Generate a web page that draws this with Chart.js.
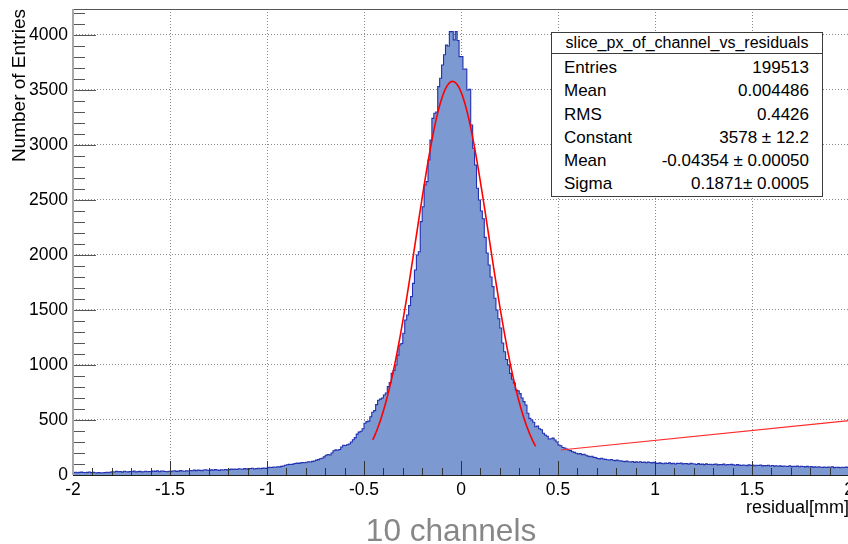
<!DOCTYPE html>
<html>
<head>
<meta charset="utf-8">
<script src="https://cdn.jsdelivr.net/npm/chart.js@4.4.1/dist/chart.umd.min.js"></script>
<style>
  html, body { margin: 0; padding: 0; background: #fff; width: 848px; height: 544px; overflow: hidden; }
  #wrap { position: absolute; left: 0; top: 0; width: 880px; height: 544px; }
  #stats {
    position: absolute; left: 551px; top: 32px; width: 270px;
    border: 1px solid #3c3c3c; background: #fff; color: #000;
    font-family: 'Liberation Sans', Arial, sans-serif;
  }
  #stats .hdr { height: 20px; line-height: 20px; font-size: 16px; text-align: center; border-bottom: 1px solid #3c3c3c; }
  #stats .rows { padding: 2px 13px 0 12px; }
  #stats .row { display: flex; justify-content: space-between; height: 23.3px; line-height: 23.3px; font-size: 17px; white-space: nowrap; }
  #caption {
    position: absolute; left: 451px; top: 515px; transform: translateX(-50%);
    font-family: 'Liberation Sans', Arial, sans-serif; font-size: 31.6px; line-height: 31px;
    color: #878787; white-space: nowrap;
  }
</style>
</head>
<body>
<div id="wrap"><canvas id="chart" width="880" height="544"></canvas></div>
<div id="stats"></div>
<div id="caption">10 channels</div>
<script>
// histogram: 400 bins of 0.01 from -2 to 2
const binLow = -2;
const binWidth = 0.01;
const counts = [
  22, 25, 21, 24, 26, 23, 20, 24, 27, 22, 24, 21, 19, 23, 18, 20, 22, 25, 21, 26,
  30, 27, 33, 29, 31, 26, 34, 30, 28, 32, 29, 35, 27, 31, 33, 28, 30, 34, 29, 32,
  31, 36, 33, 38, 30, 35, 37, 32, 29, 34, 31, 36, 39, 33, 35, 40, 37, 34, 38, 36,
  41, 38, 44, 40, 46, 42, 39, 45, 48, 43, 41, 47, 44, 49, 46, 42, 48, 45, 50, 47,
  49, 53, 51, 55, 50, 57, 54, 52, 58, 56, 53, 59, 61, 55, 58, 62, 57, 60, 63, 59,
  66, 70, 68, 73, 71, 75, 74, 78, 82, 88, 93, 97, 95, 99, 104, 108, 106, 110, 113, 111,
  116, 120, 118, 124, 127, 135, 140, 148, 152, 165, 180, 186, 182, 200, 220, 228, 225, 232, 255, 270,
  268, 275, 282, 300, 320, 340, 372, 390, 398, 420, 470, 485, 490, 530, 570, 585, 640, 680, 690, 700,
  727, 745, 803, 840, 924, 950, 1000, 1090, 1182, 1195, 1288, 1409, 1455, 1540, 1621, 1742, 1864, 2000, 2030, 2303,
  2439, 2636, 2667, 2864, 3045, 3242, 3288, 3300, 3530, 3606, 3727, 3820, 3909, 3900, 4030, 4030, 3955, 4030, 3950, 3803,
  3803, 3688, 3690, 3500, 3505, 3182, 2970, 2818, 2606, 2500, 2400, 2330, 2160, 2018, 1909, 1800, 1712, 1606, 1500, 1420,
  1336, 1200, 1121, 1050, 1000, 924, 870, 836, 773, 765, 740, 700, 667, 636, 561, 515, 500, 480, 439, 445,
  420, 412, 380, 364, 352, 327, 330, 335, 318, 300, 273, 266, 250, 245, 236, 227, 222, 212, 206, 198,
  192, 195, 185, 188, 180, 172, 166, 170, 160, 158, 150, 147, 152, 145, 142, 138, 136, 141, 134, 131,
  137, 130, 128, 125, 122, 127, 120, 118, 123, 115, 119, 116, 121, 114, 118, 112, 117, 113, 110, 116,
  108, 104, 110, 106, 102, 109, 105, 111, 103, 107, 100, 106, 104, 109, 101, 105, 103, 98, 106, 102,
  100, 96, 103, 97, 99, 94, 101, 95, 98, 93, 97, 100, 92, 96, 94, 99, 91, 95, 93, 97,
  92, 88, 94, 90, 86, 91, 89, 85, 93, 87, 90, 84, 88, 86, 91, 83, 87, 85, 89, 82,
  86, 81, 84, 79, 83, 78, 82, 80, 77, 84, 76, 80, 78, 81, 75, 79, 77, 74, 78, 73,
  76, 72, 74, 70, 75, 71, 69, 73, 68, 72, 70, 74, 67, 71, 69, 66, 70, 68, 72, 69
];

const xTickValues = [-2, -1.5, -1, -0.5, 0, 0.5, 1, 1.5, 2];
const xTickLabels = ['-2', '-1.5', '-1', '-0.5', '0', '0.5', '1', '1.5', '2'];
const yTickValues = [0, 500, 1000, 1500, 2000, 2500, 3000, 3500, 4000];
const yTickLabels = ['0', '500', '1000', '1500', '2000', '2500', '3000', '3500', '4000'];
const yMax = 4236;

// gaus fit (parameters from the stats box) and its drawn range
const fitConstant = 3578;
const fitMean = -0.04354;
const fitSigma = 0.1871;
const fitRange = [-0.455, 0.385];

// stray straight red line
const lineX = [0.514, 2.0];
const lineY = [227, 494];

const statsTitle = 'slice_px_of_channel_vs_residuals';
const statNames = ['Entries', 'Mean', 'RMS', 'Constant', 'Mean', 'Sigma'];
const statValues = ['199513', '0.004486', '0.4426', '3578 \u00b1 12.2', '-0.04354 \u00b1 0.00050', '0.1871\u00b1 0.0005'];

// stats box
const stats = document.getElementById('stats');
stats.innerHTML = `<div class="hdr">${statsTitle}</div><div class="rows">` +
  statNames.map((n, i) => `<div class="row"><span>${n}</span><span>${statValues[i]}</span></div>`).join('') +
  '</div>';

const histPoints = counts.map((c, i) => ({ x: binLow + i * binWidth, y: c }));
histPoints.push({ x: binLow + counts.length * binWidth, y: counts[counts.length - 1] });

const fitPoints = [];
const nFit = 150;
for (let i = 0; i <= nFit; i++) {
  const x = fitRange[0] + (fitRange[1] - fitRange[0]) * i / nFit;
  fitPoints.push({ x: x, y: fitConstant * Math.exp(-0.5 * Math.pow((x - fitMean) / fitSigma, 2)) });
}
const linePoints = lineX.map((x, i) => ({ x: x, y: lineY[i] }));

// frame + ROOT style ticks drawn inside the frame
const frameAndTicks = {
  id: 'frameAndTicks',
  afterDatasetsDraw(chart) {
    const { ctx, chartArea: a, scales: { x, y } } = chart;
    ctx.save();
    ctx.lineWidth = 1;
    ctx.strokeStyle = '#333';
    ctx.beginPath();
    for (let k = 0; k <= 40; k++) {
      const px = Math.round(x.getPixelForValue(-2 + k * 0.1)) + 0.5;
      const len = k % 5 === 0 ? 14 : 7;
      ctx.moveTo(px, a.bottom);
      ctx.lineTo(px, a.bottom - len);
    }
    ctx.stroke();

    ctx.strokeStyle = '#555';
    ctx.beginPath();
    for (let k = 0; k * 100 <= y.max; k++) {
      const py = Math.round(y.getPixelForValue(k * 100)) + 0.5;
      const len = k % 5 === 0 ? 23 : 12;
      ctx.moveTo(a.left, py);
      ctx.lineTo(a.left + len, py);
    }
    ctx.stroke();

    // frame
    ctx.strokeStyle = '#555';
    ctx.beginPath();
    ctx.moveTo(a.left, Math.round(a.top) + 0.5);
    ctx.lineTo(a.right, Math.round(a.top) + 0.5);
    ctx.moveTo(Math.round(a.right) - 0.5, a.top);
    ctx.lineTo(Math.round(a.right) - 0.5, a.bottom);
    ctx.stroke();
    ctx.strokeStyle = '#222';
    ctx.beginPath();
    ctx.moveTo(a.left, Math.round(a.bottom) + 0.5);
    ctx.lineTo(a.right, Math.round(a.bottom) + 0.5);
    ctx.stroke();
    ctx.strokeStyle = '#a8a8a8';
    ctx.lineWidth = 2;
    ctx.beginPath();
    ctx.moveTo(Math.round(a.left), a.top);
    ctx.lineTo(Math.round(a.left), a.bottom);
    ctx.stroke();
    ctx.restore();
  }
};

Chart.defaults.font.family = "'Liberation Sans', Arial, sans-serif";
Chart.defaults.color = '#000';

new Chart(document.getElementById('chart').getContext('2d'), {
  type: 'line',
  data: {
    datasets: [
      {
        label: 'fit',
        data: fitPoints,
        borderColor: '#ff0000',
        borderWidth: 1.6,
        pointRadius: 0,
        fill: false,
        tension: 0,
        order: 1
      },
      {
        label: 'line',
        data: linePoints,
        borderColor: '#ff2a2a',
        borderWidth: 1.2,
        pointRadius: 0,
        fill: false,
        order: 1
      },
      {
        label: 'slice_px_of_channel_vs_residuals',
        data: histPoints,
        stepped: true,
        borderColor: '#2230b0',
        borderWidth: 1.1,
        backgroundColor: '#7d99d1',
        fill: 'origin',
        pointRadius: 0,
        order: 2
      }
    ]
  },
  options: {
    responsive: false,
    animation: false,
    events: [],
    layout: { padding: { left: 0, top: 9, right: 31, bottom: 0 } },
    plugins: {
      legend: { display: false },
      tooltip: { enabled: false }
    },
    scales: {
      x: {
        type: 'linear',
        min: -2,
        max: 2,
        afterBuildTicks: s => { s.ticks = xTickValues.map(v => ({ value: v })); },
        afterFit: s => { s.height = 69; s.paddingLeft = 0; s.paddingRight = 0; },
        ticks: {
          padding: 5,
          maxRotation: 0,
          autoSkip: false,
          font: { size: 17.5 },
          callback: (v) => xTickLabels[xTickValues.indexOf(v)]
        },
        grid: { color: '#8a8a8a', lineWidth: 1, drawTicks: false },
        border: { display: false, dash: [1, 2] },
        title: {
          display: true,
          text: 'residual[mm]',
          align: 'end',
          font: { size: 18 },
          padding: { top: 0, bottom: 25 }
        }
      },
      y: {
        min: 0,
        max: yMax,
        afterBuildTicks: s => { s.ticks = yTickValues.map(v => ({ value: v })); },
        afterFit: s => { s.width = 73; s.paddingTop = 0; s.paddingBottom = 0; },
        ticks: {
          padding: 5,
          font: { size: 17.5 },
          callback: (v) => yTickLabels[yTickValues.indexOf(v)]
        },
        grid: { color: '#8a8a8a', lineWidth: 1, drawTicks: false },
        border: { display: false, dash: [1, 2] },
        title: {
          display: true,
          text: 'Number of Entries',
          align: 'end',
          font: { size: 19 },
          padding: { top: 8, bottom: 0 }
        }
      }
    }
  },
  plugins: [frameAndTicks]
});
</script>
</body>
</html>
